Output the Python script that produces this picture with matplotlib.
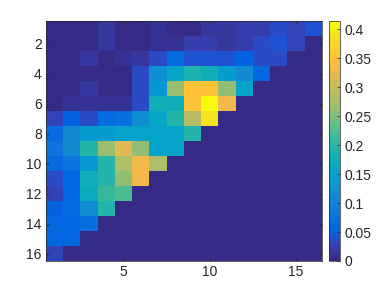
import numpy as np
import matplotlib
matplotlib.use("Agg")
import matplotlib.pyplot as plt
from matplotlib.colors import ListedColormap

# parula (MATLAB R2014b) colormap, 64 entries
parula_data = [
[0.2081,0.1663,0.5292],[0.2116,0.1898,0.5777],[0.2123,0.2138,0.6270],[0.2081,0.2386,0.6771],
[0.1959,0.2645,0.7279],[0.1707,0.2919,0.7792],[0.1253,0.3242,0.8303],[0.0591,0.3598,0.8683],
[0.0117,0.3875,0.8820],[0.0060,0.4086,0.8828],[0.0165,0.4266,0.8786],[0.0329,0.4430,0.8720],
[0.0498,0.4586,0.8641],[0.0629,0.4737,0.8554],[0.0723,0.4887,0.8467],[0.0779,0.5040,0.8384],
[0.0793,0.5200,0.8312],[0.0749,0.5375,0.8263],[0.0641,0.5570,0.8240],[0.0488,0.5772,0.8228],
[0.0343,0.5966,0.8199],[0.0265,0.6137,0.8135],[0.0239,0.6287,0.8038],[0.0231,0.6418,0.7913],
[0.0228,0.6535,0.7768],[0.0267,0.6642,0.7607],[0.0384,0.6743,0.7436],[0.0590,0.6838,0.7254],
[0.0843,0.6928,0.7062],[0.1133,0.7015,0.6859],[0.1453,0.7098,0.6646],[0.1801,0.7177,0.6424],
[0.2178,0.7250,0.6193],[0.2586,0.7317,0.5954],[0.3022,0.7376,0.5712],[0.3482,0.7424,0.5473],
[0.3953,0.7459,0.5244],[0.4420,0.7481,0.5033],[0.4871,0.7491,0.4840],[0.5300,0.7491,0.4661],
[0.5709,0.7485,0.4494],[0.6099,0.7473,0.4337],[0.6473,0.7456,0.4188],[0.6834,0.7435,0.4044],
[0.7184,0.7411,0.3905],[0.7525,0.7384,0.3768],[0.7858,0.7356,0.3633],[0.8185,0.7327,0.3498],
[0.8507,0.7299,0.3360],[0.8824,0.7274,0.3217],[0.9139,0.7258,0.3063],[0.9450,0.7261,0.2886],
[0.9739,0.7314,0.2666],[0.9938,0.7455,0.2403],[0.9990,0.7653,0.2164],[0.9955,0.7861,0.1967],
[0.9880,0.8066,0.1794],[0.9789,0.8271,0.1633],[0.9697,0.8481,0.1475],[0.9626,0.8705,0.1309],
[0.9589,0.8949,0.1132],[0.9598,0.9218,0.0948],[0.9661,0.9514,0.0755],[0.9763,0.9831,0.0538]]
parula = ListedColormap(parula_data, name="parula")

# matrix values, row 1 at top
row01 = [0.003,0.003,0.003,0.015,0.003,0.003,0.012,0.005,0.003,0.015,0.015,0.020,0.025,0.035,0.030,0.040]
row02 = [0.003,0.003,0.003,0.015,0.003,0.003,0.012,0.012,0.020,0.020,0.015,0.022,0.035,0.045,0.030,0.0]
row03 = [0.003,0.003,0.015,0.005,0.010,0.015,0.035,0.070,0.045,0.045,0.045,0.055,0.035,0.035,0.0,0.0]
row04 = [0.003,0.003,0.003,0.003,0.005,0.035,0.120,0.160,0.190,0.180,0.140,0.110,0.060,0.0,0.0,0.0]
row05 = [0.003,0.003,0.015,0.003,0.005,0.035,0.130,0.270,0.350,0.350,0.260,0.150,0.0,0.0,0.0,0.0]
row06 = [0.003,0.012,0.012,0.012,0.008,0.035,0.180,0.180,0.350,0.414,0.330,0.0,0.0,0.0,0.0,0.0]
row07 = [0.030,0.055,0.035,0.065,0.075,0.120,0.160,0.200,0.290,0.390,0.0,0.0,0.0,0.0,0.0,0.0]
row08 = [0.065,0.110,0.140,0.140,0.150,0.150,0.150,0.150,0.200,0.0,0.0,0.0,0.0,0.0,0.0,0.0]
row09 = [0.080,0.110,0.200,0.270,0.320,0.260,0.150,0.150,0.0,0.0,0.0,0.0,0.0,0.0,0.0,0.0]
row10 = [0.070,0.080,0.130,0.200,0.280,0.330,0.280,0.0,0.0,0.0,0.0,0.0,0.0,0.0,0.0,0.0]
row11 = [0.035,0.060,0.180,0.200,0.260,0.330,0.0,0.0,0.0,0.0,0.0,0.0,0.0,0.0,0.0,0.0]
row12 = [0.030,0.060,0.170,0.210,0.220,0.0,0.0,0.0,0.0,0.0,0.0,0.0,0.0,0.0,0.0,0.0]
row13 = [0.055,0.070,0.120,0.200,0.0,0.0,0.0,0.0,0.0,0.0,0.0,0.0,0.0,0.0,0.0,0.0]
row14 = [0.060,0.060,0.075,0.0,0.0,0.0,0.0,0.0,0.0,0.0,0.0,0.0,0.0,0.0,0.0,0.0]
row15 = [0.060,0.060,0.0,0.0,0.0,0.0,0.0,0.0,0.0,0.0,0.0,0.0,0.0,0.0,0.0,0.0]
row16 = [0.030,0.0,0.0,0.0,0.0,0.0,0.0,0.0,0.0,0.0,0.0,0.0,0.0,0.0,0.0,0.0]

x_ticks = [5, 10, 15]
y_ticks = [2, 4, 6, 8, 10, 12, 14, 16]
cbar_ticks = [0, 0.05, 0.1, 0.15, 0.2, 0.25, 0.3, 0.35, 0.4]
cbar_labels = ["0", "0.05", "0.1", "0.15", "0.2", "0.25", "0.3", "0.35", "0.4"]

Z = np.array([row01,row02,row03,row04,row05,row06,row07,row08,
              row09,row10,row11,row12,row13,row14,row15,row16])
n_rows, n_cols = Z.shape

plt.rcParams['font.family'] = ['Liberation Sans', 'DejaVu Sans']
tc = (0.15, 0.15, 0.15)
fs = 10

fig = plt.figure(figsize=(3.9, 2.93), dpi=100)
ax = fig.add_axes([46/390, 32/293, 276/390, 240/293])
im = ax.imshow(Z, cmap=parula, vmin=Z.min(), vmax=Z.max(), interpolation='nearest',
               extent=(0.5, n_cols + 0.5, n_rows + 0.5, 0.5), aspect='auto')
ax.set_xticks(x_ticks)
ax.set_yticks(y_ticks)
ax.tick_params(direction='in', length=2, width=0.5, colors=tc, labelsize=fs,
               top=True, right=True, pad=3)
for s in ax.spines.values():
    s.set_color(tc)
    s.set_linewidth(0.5)

cax = fig.add_axes([329/390, 32/293, 11/390, 240/293])
cb = fig.colorbar(im, cax=cax, ticks=cbar_ticks)
cb.ax.set_yticklabels(cbar_labels)
cb.ax.tick_params(direction='in', length=2, width=0.5, colors=tc, labelsize=fs, pad=3)
cb.outline.set_edgecolor(tc)
cb.outline.set_linewidth(0.5)

fig.savefig("out.png", dpi=100)
